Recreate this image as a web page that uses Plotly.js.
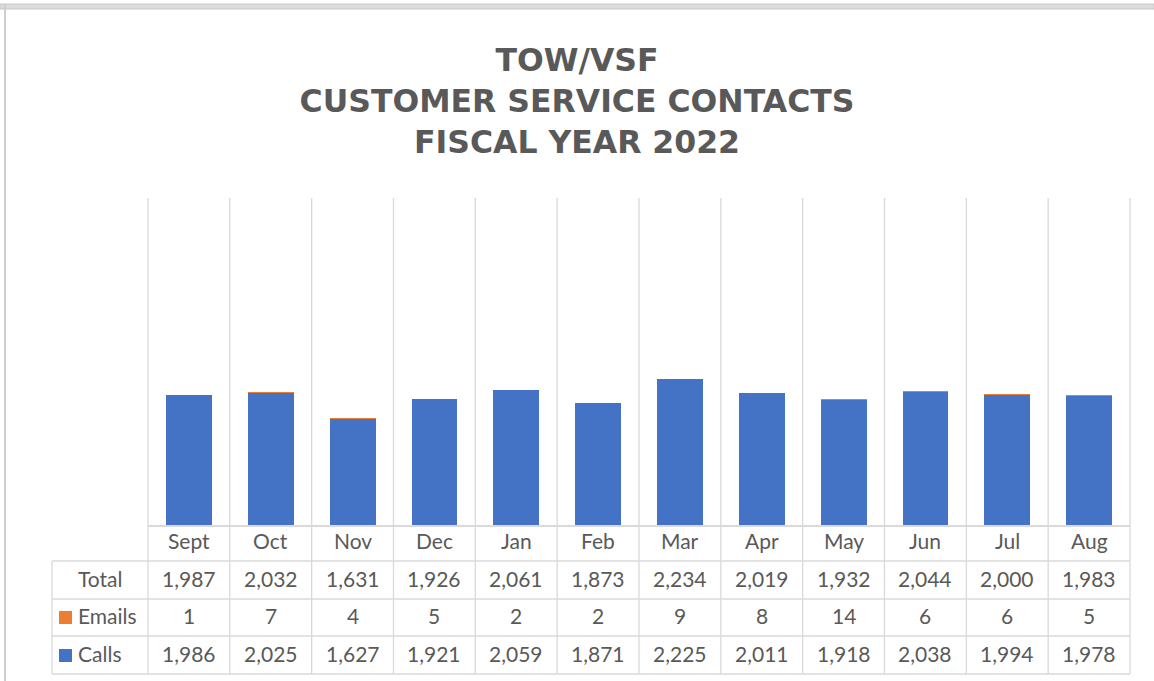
<!DOCTYPE html>
<html>
<head>
<meta charset="utf-8">
<script src="https://cdn.plot.ly/plotly-3.0.1.min.js"></script>
<style>html,body{margin:0;padding:0;background:#fff;}#chart{width:1154px;height:681px;}</style>
</head>
<body>
<div id="chart"></div>
<script>
// ---- data ----
const months = ["Sept","Oct","Nov","Dec","Jan","Feb","Mar","Apr","May","Jun","Jul","Aug"];
const calls  = [1986, 2025, 1627, 1921, 2059, 1871, 2225, 2011, 1918, 2038, 1994, 1978];
const emails = [1, 7, 4, 5, 2, 2, 9, 8, 14, 6, 6, 5];
const totals = [1987, 2032, 1631, 1926, 2061, 1873, 2234, 2019, 1932, 2044, 2000, 1983];
const rowNames = ["Total", "Emails", "Calls"];

// ---- layout geometry (pixels) ----
const W = 1154, H = 681;
const L = 148, R = 1130, T = 198, B = 525;
const px = X => (X - L) / (R - L);
const py = Y => (B - Y) / (B - T);
const gridColor = "#d9d9d9";
const textColor = "#595959";
const fontFam = "Lato, 'Open Sans', sans-serif";
const xs = months.map((m, i) => i);

const traces = [
  {type: "bar", name: "Calls", x: xs, y: calls, marker: {color: "#4472C4", line: {width: 0}}, hoverinfo: "y"},
  {type: "bar", name: "Emails", x: xs, y: emails, marker: {color: "#ED7D31", line: {width: 0}}, hoverinfo: "y"}
];

const shapes = [];
const annotations = [];
const colW = (R - L) / months.length;
// vertical column lines
for (let i = 0; i <= months.length; i++) {
  const X = L + i * colW;
  shapes.push({type: "line", xref: "paper", yref: "paper", x0: px(X), x1: px(X), y0: py(T), y1: py(674), line: {color: gridColor, width: 1.3}, layer: "below"});
}
// left label column
shapes.push({type: "line", xref: "paper", yref: "paper", x0: px(52), x1: px(52), y0: py(561), y1: py(674), line: {color: gridColor, width: 1.3}});
// horizontal table lines
[561, 599, 636, 674].forEach(Y => {
  shapes.push({type: "line", xref: "paper", yref: "paper", x0: px(52), x1: px(R), y0: py(Y), y1: py(Y), line: {color: gridColor, width: 1.3}});
});
// window borders
shapes.push({type: "rect", xref: "paper", yref: "paper", x0: px(0), x1: px(W), y0: py(4), y1: py(9), fillcolor: "#dcdcdc", line: {color: "#c8c8c8", width: 1}});
shapes.push({type: "rect", xref: "paper", yref: "paper", x0: px(4), x1: px(6), y0: py(4), y1: py(H), fillcolor: "#cfcfcf", line: {width: 0}});

// legend keys
shapes.push({type: "rect", xref: "paper", yref: "paper", x0: px(59), x1: px(72), y0: py(611), y1: py(624), fillcolor: "#ED7D31", line: {width: 0}});
shapes.push({type: "rect", xref: "paper", yref: "paper", x0: px(59), x1: px(72), y0: py(649), y1: py(662), fillcolor: "#4472C4", line: {width: 0}});

const tfont = {family: fontFam, size: 21, color: textColor};
const rowY = [578, 615, 653];
const rowData = [totals, emails, calls];
months.forEach((m, i) => {
  annotations.push({xref: "x", yref: "paper", x: i, y: py(540), text: m, showarrow: false, font: tfont, xanchor: "center", yanchor: "middle"});
  rowData.forEach((arr, r) => {
    annotations.push({xref: "x", yref: "paper", x: i, y: py(rowY[r]), text: arr[i].toLocaleString("en-US"), showarrow: false, font: tfont, xanchor: "center", yanchor: "middle"});
  });
});
annotations.push({xref: "paper", yref: "paper", x: px(100), y: py(rowY[0]), text: rowNames[0], showarrow: false, font: tfont, xanchor: "center", yanchor: "middle"});
annotations.push({xref: "paper", yref: "paper", x: px(76), y: py(rowY[1]), text: rowNames[1], showarrow: false, font: tfont, xanchor: "left", yanchor: "middle"});
annotations.push({xref: "paper", yref: "paper", x: px(76), y: py(rowY[2]), text: rowNames[2], showarrow: false, font: tfont, xanchor: "left", yanchor: "middle"});

const layout = {
  width: W, height: H,
  margin: {l: L, r: W - R, t: T, b: H - B, pad: 0},
  paper_bgcolor: "#ffffff", plot_bgcolor: "#ffffff",
  barmode: "stack", bargap: 0.44,
  showlegend: false,
  title: {
    text: "TOW/VSF<br>CUSTOMER SERVICE CONTACTS<br>FISCAL YEAR 2022",
    x: 0.5, xref: "container", xanchor: "center",
    y: 1 - 71 / H, yref: "container", yanchor: "top",
    pad: {t: 0, b: 0, l: 0, r: 0},
    font: {family: "'DejaVu Sans', sans-serif", size: 31.5, color: textColor, weight: "bold"}
  },
  xaxis: {range: [-0.5, 11.5], showgrid: false, zeroline: false, showticklabels: false, ticks: "", showline: true, linecolor: gridColor, linewidth: 1.5, fixedrange: true},
  yaxis: {range: [0, 5000], showgrid: false, zeroline: false, showticklabels: false, ticks: "", showline: false, fixedrange: true},
  shapes: shapes,
  annotations: annotations
};

Plotly.newPlot("chart", traces, layout, {displayModeBar: false, staticPlot: true});
</script>
</body>
</html>
